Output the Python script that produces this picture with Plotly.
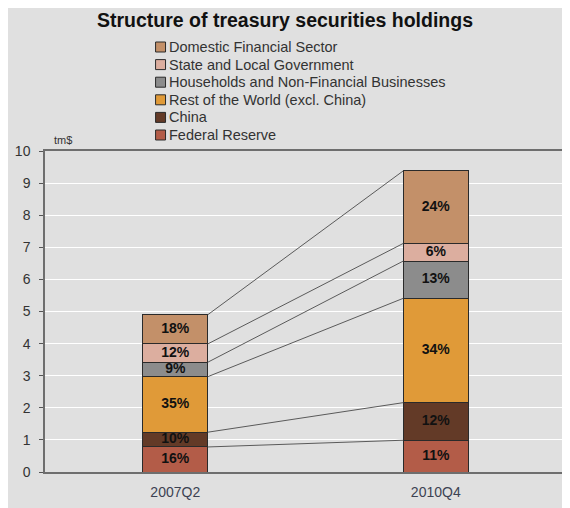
import plotly.graph_objects as go

periods = ["2007Q2", "2010Q4"]
series_names = ["Federal Reserve", "China", "Rest of the World (excl. China)",
                "Households and Non-Financial Businesses", "State and Local Government",
                "Domestic Financial Sector"]
fed = [0.78, 0.99]
china = [0.46, 1.17]
row = [1.73, 3.25]
households = [0.45, 1.16]
state_local = [0.57, 0.55]
domestic = [0.91, 2.26]
pct_labels = [
    ["16%", "11%"],
    ["10%", "12%"],
    ["35%", "34%"],
    ["9%", "13%"],
    ["12%", "6%"],
    ["18%", "24%"],
]
colors = ["#b35c48", "#633a27", "#e09a38", "#8c8c8c", "#dcae9f", "#c39069"]
yticks = list(range(0, 11))

series = [fed, china, row, households, state_local, domestic]
xpos = [0, 1]
bar_w = 0.25
FONT = "Liberation Sans, Arial, sans-serif"

# page offset (body margin) and pixel helpers
OFF = 8
W, H = 570 - OFF, 508 - OFF
PL, PR, PT, PB = 45, 568, 151, 472  # plot area in window pixels


def px(X):
    return (X - PL) / (PR - PL)


def py(Y):
    return (PB - Y) / (PB - PT)


fig = go.Figure()
for name, vals, col in zip(series_names, series, colors):
    fig.add_trace(go.Bar(
        x=xpos, y=vals, name=name, width=bar_w,
        marker=dict(color=col, line=dict(color="#2a2a2a", width=1)),
        hoverinfo="skip", showlegend=False,
    ))

cum = [[0.0, 0.0]]
for vals in series:
    prev = cum[-1]
    cum.append([prev[i] + vals[i] for i in range(2)])

for k in range(1, len(cum)):
    fig.add_trace(go.Scatter(
        x=[xpos[0] + bar_w / 2, xpos[1] - bar_w / 2],
        y=[cum[k][0], cum[k][1]],
        mode="lines", line=dict(color="#5a5a5a", width=1),
        showlegend=False, hoverinfo="skip",
    ))

for k, vals in enumerate(series):
    mids = [cum[k][i] + vals[i] / 2 for i in range(2)]
    fig.add_trace(go.Scatter(
        x=xpos, y=mids, mode="text", text=pct_labels[k],
        textfont=dict(family=FONT, size=14, color="#111111", weight="bold"),
        showlegend=False, hoverinfo="skip",
    ))

shapes = [dict(type="rect", xref="paper", yref="paper",
               x0=px(6), x1=px(580), y0=py(520), y1=py(6),
               fillcolor="#e0e0e0", line=dict(width=0), layer="below")]
annotations = [dict(text="tm$", xref="paper", yref="paper",
                    x=px(63), y=py(140), xanchor="center", yanchor="middle",
                    showarrow=False, font=dict(family=FONT, size=11, color="#333333"))]

# manual legend (top entry = last series)
row0, step = 47, 17.6
for i, idx in enumerate(reversed(range(len(series_names)))):
    yc = row0 + i * step
    shapes.append(dict(type="rect", xref="paper", yref="paper",
                       x0=px(156), x1=px(166), y0=py(yc + 5), y1=py(yc - 5),
                       fillcolor=colors[idx], line=dict(color="#2a2a2a", width=1)))
    annotations.append(dict(text=series_names[idx], xref="paper", yref="paper",
                            x=px(167), y=py(yc), xanchor="left", yanchor="middle",
                            showarrow=False,
                            font=dict(family=FONT, size=14.5, color="#333333")))

fig.update_layout(
    width=W, height=H,
    margin=dict(l=PL - OFF, r=570 - PR, t=PT - OFF, b=508 - PB),
    barmode="stack",
    paper_bgcolor="white",
    plot_bgcolor="#e0e0e0",
    showlegend=False,
    font=dict(family=FONT, size=14, color="#333333"),
    title=dict(text="<b>Structure of treasury securities holdings</b>",
               x=(285 - OFF) / W, xref="container", xanchor="center",
               y=1 - (20 - OFF) / H, yref="container", yanchor="middle",
               font=dict(family=FONT, size=19.5, color="#111111")),
    xaxis=dict(range=[-0.5, 1.5], tickvals=xpos, ticktext=periods,
               showgrid=False, zeroline=False, showline=True, mirror=True,
               linecolor="#6e6e6e", linewidth=1.5, ticks="",
               ticklabelstandoff=6,
               tickfont=dict(family=FONT, size=14, color="#3c4252")),
    yaxis=dict(range=[0, 10], tickvals=yticks, showgrid=True, gridcolor="white",
               gridwidth=1, zeroline=False, showline=True, mirror=True,
               linecolor="#6e6e6e", linewidth=1.5, ticks="outside", ticklen=4,
               tickcolor="#555555", ticklabelstandoff=6,
               tickfont=dict(family=FONT, size=14, color="#333333")),
    shapes=shapes,
    annotations=annotations,
)

fig.write_html("out.html")
